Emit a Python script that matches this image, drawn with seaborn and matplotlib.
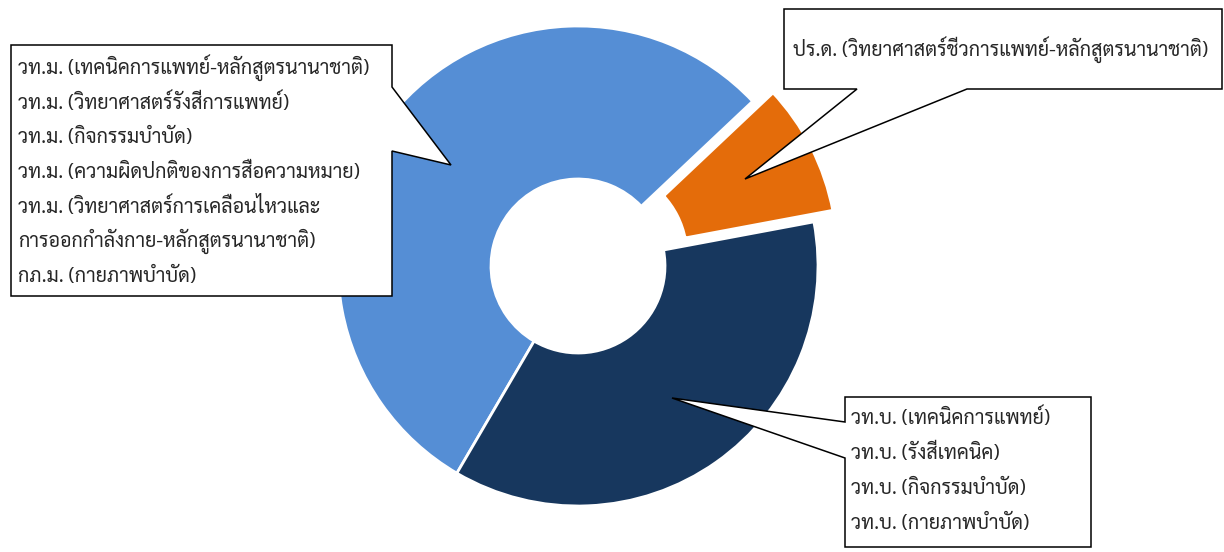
import matplotlib
matplotlib.use("Agg")
import matplotlib.pyplot as plt
import seaborn as sns
from matplotlib.patches import Polygon

# degree levels in pie order (orange, light blue, dark blue)
levels = ["ปริญญาเอก", "ปริญญาโท", "ปริญญาตรี"]
counts = [4, 24, 16]
colors = ["#E46C0A", "#558ED5", "#17375E"]

phd_programs = ["ปร.ด. (วิทยาศาสตร์ชีวการแพทย์-หลักสูตรนานาชาติ)"]
master_programs = [
    "วท.ม. (เทคนิคการแพทย์-หลักสูตรนานาชาติ)",
    "วท.ม. (วิทยาศาสตร์รังสีการแพทย์)",
    "วท.ม. (กิจกรรมบำบัด)",
    "วท.ม. (ความผิดปกติของการสื่อความหมาย)",
    "วท.ม. (วิทยาศาสตร์การเคลื่อนไหวและ\nการออกกำลังกาย-หลักสูตรนานาชาติ)",
    "กภ.ม. (กายภาพบำบัด)",
]
bachelor_programs = [
    "วท.บ. (เทคนิคการแพทย์)",
    "วท.บ. (รังสีเทคนิค)",
    "วท.บ. (กิจกรรมบำบัด)",
    "วท.บ. (กายภาพบำบัด)",
]

sns.set_theme(style="white")
plt.rcParams["font.family"] = ["Sarabun", "DejaVu Sans"]

W, H = 1224, 552
fig = plt.figure(figsize=(W / 100, H / 100), dpi=100)
ax = fig.add_axes([0, 0, 1, 1])

# explode is in data units here (axes are in pixels)
wedges, _ = ax.pie(counts, colors=colors, explode=[23, 0, 0],
                   startangle=10.6, counterclock=True,
                   radius=240, center=(578, H - 266),
                   wedgeprops=dict(width=153, edgecolor="white", linewidth=2))
wedges[0].set_linewidth(4)

ax.set_xlim(0, W)
ax.set_ylim(0, H)
ax.set_aspect("equal")
ax.axis("off")


def callout(pts):
    # pts in pixel coords from top-left
    poly = Polygon([(x, H - y) for x, y in pts], closed=True,
                   facecolor="white", edgecolor="black", linewidth=1.1, zorder=5)
    ax.add_patch(poly)


def lines_of(progs):
    out = []
    for p in progs:
        out += p.split("\n")
    return out


fs = 14.2
# left callout (master)
callout([(11, 45), (392, 45), (392, 87), (451, 165), (392, 151), (392, 296), (11, 296)])
for i, s in enumerate(lines_of(master_programs)):
    ax.text(18, H - (68 + i * 34.7), s, fontsize=fs, va="center", ha="left", zorder=6)

# top right callout (phd)
callout([(784, 9), (1222, 9), (1222, 89), (967, 89), (745, 179), (857, 89), (784, 89)])
ax.text(793, H - 50, phd_programs[0], fontsize=fs, va="center", ha="left", zorder=6)

# bottom right callout (bachelor)
callout([(845, 397), (1091, 397), (1091, 547), (845, 547), (845, 458), (672, 398), (845, 422)])
for i, s in enumerate(lines_of(bachelor_programs)):
    ax.text(851, H - (418 + i * 35), s, fontsize=fs, va="center", ha="left", zorder=6)

fig.savefig("out.png", dpi=100)
